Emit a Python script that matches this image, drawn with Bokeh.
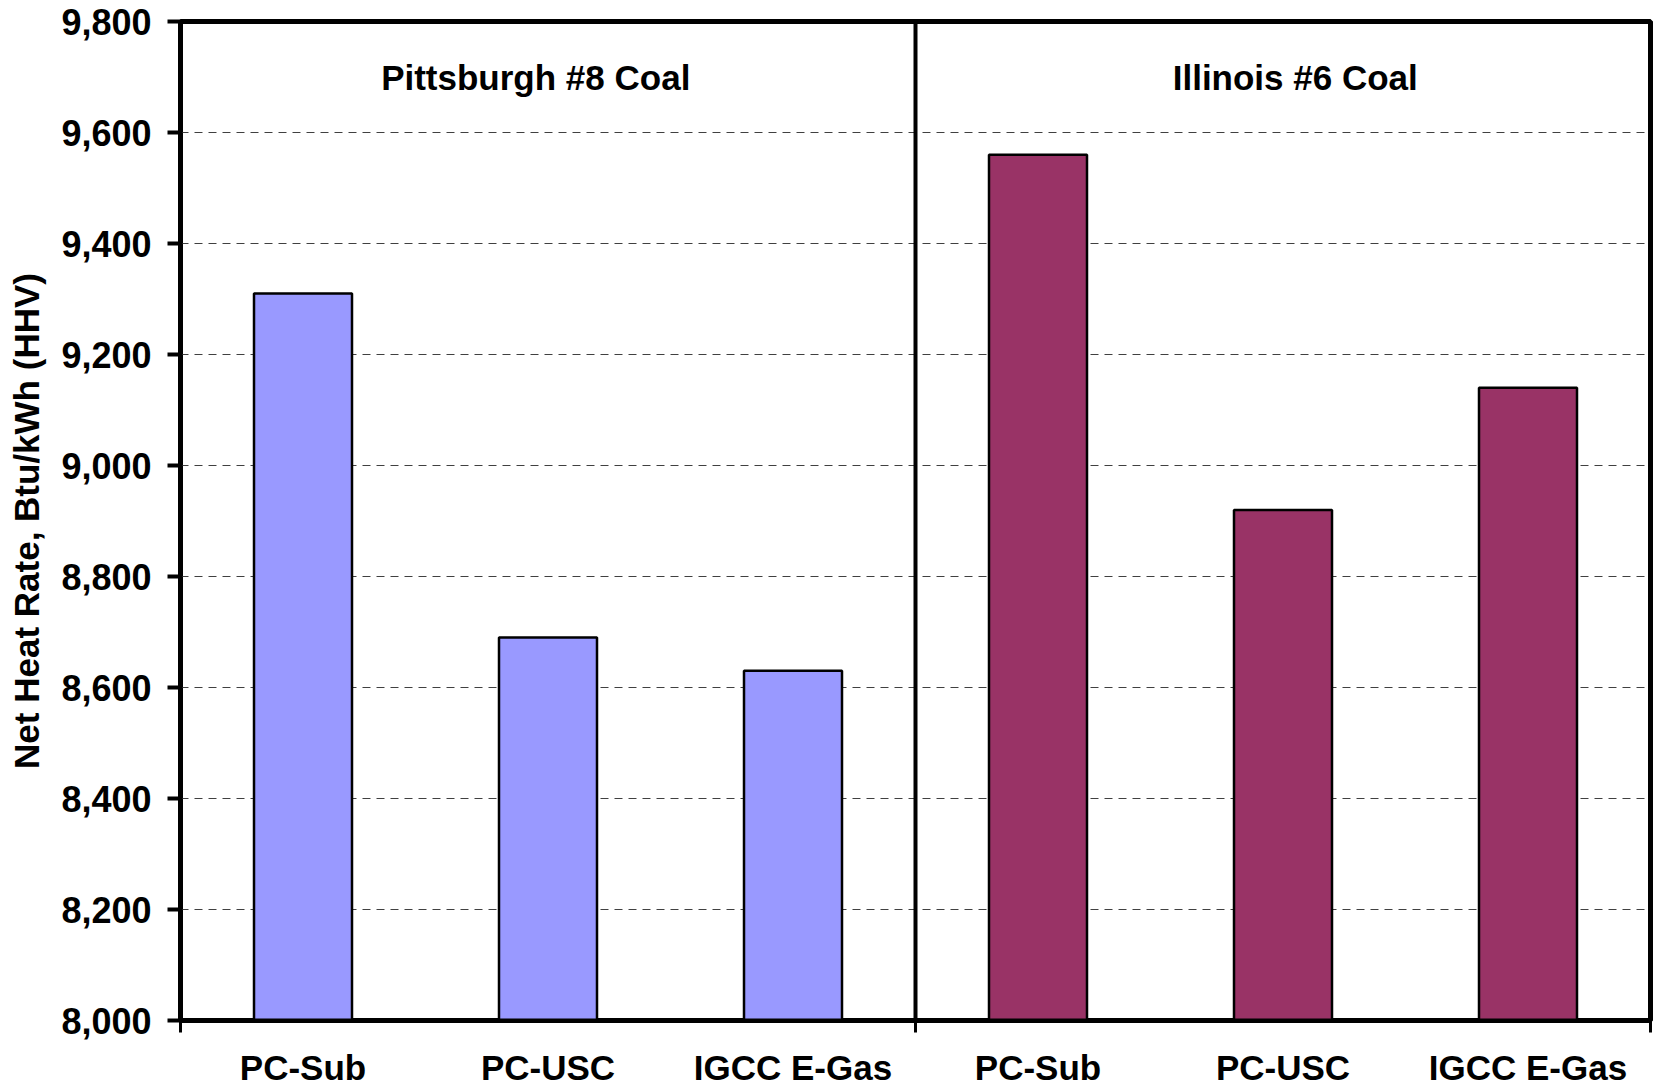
from bokeh.plotting import figure
from bokeh.models import (ColumnDataSource, FixedTicker, NumeralTickFormatter,
                          CustomJSTickFormatter, Span, Range1d)
from bokeh.core.properties import value
from bokeh.embed import file_html
from bokeh.resources import INLINE

# ---- data ----
coal_groups = ["Pittsburgh #8 Coal", "Illinois #6 Coal"]
technologies = ["PC-Sub", "PC-USC", "IGCC E-Gas"]
pittsburgh_heat_rate = [9310, 8690, 8630]
illinois_heat_rate = [9560, 8920, 9140]
group_colors = ["#9999FF", "#993366"]
y_ticks = [8000, 8200, 8400, 8600, 8800, 9000, 9200, 9400, 9600, 9800]
y_label = "Net Heat Rate, Btu/kWh (HHV)"

FONT = "Liberation Sans"

all_values = pittsburgh_heat_rate + illinois_heat_rate
all_labels = technologies + technologies
n = len(all_values)
xs = [i + 0.5 for i in range(n)]
cols = [group_colors[0]] * len(pittsburgh_heat_rate) + [group_colors[1]] * len(illinois_heat_rate)

src = ColumnDataSource(dict(x=xs, top=all_values, color=cols))

p = figure(width=1656, height=1089, output_backend="svg", toolbar_location=None,
           x_range=Range1d(0, n), y_range=Range1d(y_ticks[0], y_ticks[-1]),
           min_border_left=180, min_border_right=6, min_border_top=21,
           min_border_bottom=68)
p.background_fill_color = "white"
p.border_fill_color = "white"
p.outline_line_color = "black"
p.outline_line_width = 5

# grid
p.xgrid.visible = False
p.ygrid.ticker = FixedTicker(ticks=y_ticks[1:-1])
p.ygrid.grid_line_color = "#404040"
p.ygrid.grid_line_dash = "8 6"
p.ygrid.grid_line_width = 1

p.vbar(x="x", top="top", bottom=y_ticks[0], width=0.4, source=src,
       fill_color="color", line_color="black", line_width=2.5)

# divider between coal groups
p.add_layout(Span(location=len(pittsburgh_heat_rate), dimension="height",
                  line_color="black", line_width=4))

# group titles
p.text(x=[1.45, 4.55], y=[9700, 9700], text=coal_groups,
       text_font=value(FONT), text_font_style="bold", text_font_size="35px",
       text_align="center", text_baseline="middle", text_color="black")

# y axis
yax = p.yaxis[0]
yax.ticker = FixedTicker(ticks=y_ticks)
yax.formatter = NumeralTickFormatter(format="0,0")
yax.axis_line_width = 4
yax.axis_line_color = "black"
yax.major_tick_out = 13
yax.major_tick_in = 0
yax.major_tick_line_width = 4
yax.minor_tick_line_color = None
yax.major_label_text_font = FONT
yax.major_label_text_font_style = "bold"
yax.major_label_text_font_size = "36px"
yax.major_label_text_color = "black"
yax.major_label_standoff = 16
yax.axis_label = y_label
yax.axis_label_text_font = FONT
yax.axis_label_text_font_style = "bold"
yax.axis_label_text_font_size = "35px"
yax.axis_label_text_color = "black"
yax.axis_label_standoff = 12

# x axis
xax = p.xaxis[0]
xax.ticker = FixedTicker(ticks=xs, minor_ticks=[0, len(pittsburgh_heat_rate), n])
xax.formatter = CustomJSTickFormatter(args=dict(labels=all_labels),
                                      code="return labels[Math.floor(tick)];")
xax.axis_line_width = 4
xax.axis_line_color = "black"
xax.major_tick_line_color = None
xax.major_tick_out = 0
xax.major_tick_in = 0
xax.minor_tick_out = 12
xax.minor_tick_in = 0
xax.minor_tick_line_width = 3
xax.minor_tick_line_color = "black"
xax.major_label_text_font = FONT
xax.major_label_text_font_style = "bold"
xax.major_label_text_font_size = "35px"
xax.major_label_text_color = "black"
xax.major_label_standoff = 15

open("out.html", "w").write(file_html(p, INLINE))
